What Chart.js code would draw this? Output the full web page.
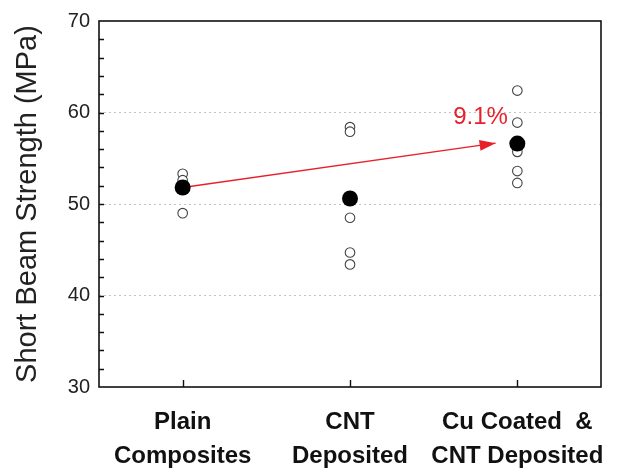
<!DOCTYPE html>
<html>
<head>
<meta charset="utf-8">
<script src="https://cdn.jsdelivr.net/npm/chart.js@4.4.1/dist/chart.umd.min.js"></script>
<style>
  html, body { margin: 0; padding: 0; background: #fff; }
  #wrap { width: 621px; height: 475px; }
</style>
</head>
<body>
<div id="wrap"><canvas id="chart" width="621" height="475"></canvas></div>
<script>
/* ── DATA ── */
const categories = [['Plain', 'Composites'], ['CNT', 'Deposited'], ['Cu Coated  &', 'CNT Deposited']];

const plainSamples = [53.3, 52.6, 51.8, 49.0];
const cntSamples   = [58.4, 57.9, 48.5, 44.7, 43.4];
const cuSamples    = [62.4, 58.9, 55.7, 53.6, 52.3];

const means        = [51.8, 50.6, 56.6];

const arrowFrom    = { x: 0, y: 51.8 };
const arrowTo      = { x: 1.87, y: 56.65 };
const arrowLabel   = { x: 1.78, y: 59.5, text: '9.1%' };

const yTicks       = [30, 40, 50, 60, 70];

/* ── HELPERS ── */
const FONT = "'Liberation Sans', Arial, sans-serif";
const RED  = '#e8202a';

function toPoints(vals, x) {
  return vals.map(v => ({ x: x, y: v }));
}

/* box, inward ticks, arrow head and label */
const decorPlugin = {
  id: 'decor',
  afterDatasetsDraw(chart) {
    const { ctx, chartArea: a, scales: { x, y } } = chart;
    ctx.save();

    // frame
    ctx.strokeStyle = '#111';
    ctx.lineWidth = 1.6;
    ctx.strokeRect(a.left, a.top, a.right - a.left, a.bottom - a.top);

    // inward minor/major ticks on y
    ctx.lineWidth = 1.4;
    ctx.beginPath();
    for (let v = 32; v < 70; v += 2) {
      const py = Math.round(y.getPixelForValue(v)) + 0.5;
      ctx.moveTo(a.left, py);
      ctx.lineTo(a.left + 5, py);
    }
    // inward ticks on x
    [0, 1, 2].forEach(i => {
      const px = Math.round(x.getPixelForValue(i)) + 0.5;
      ctx.moveTo(px, a.bottom);
      ctx.lineTo(px, a.bottom - 7);
    });
    ctx.stroke();

    // arrow head
    const x0 = x.getPixelForValue(arrowFrom.x), y0 = y.getPixelForValue(arrowFrom.y);
    const x1 = x.getPixelForValue(arrowTo.x),   y1 = y.getPixelForValue(arrowTo.y);
    const ang = Math.atan2(y1 - y0, x1 - x0);
    const len = 16, half = 5.5;
    ctx.fillStyle = RED;
    ctx.beginPath();
    ctx.moveTo(x1, y1);
    ctx.lineTo(x1 - len * Math.cos(ang) + half * Math.sin(ang), y1 - len * Math.sin(ang) - half * Math.cos(ang));
    ctx.lineTo(x1 - len * Math.cos(ang) - half * Math.sin(ang), y1 - len * Math.sin(ang) + half * Math.cos(ang));
    ctx.closePath();
    ctx.fill();

    // label
    ctx.font = '24px ' + FONT;
    ctx.textAlign = 'center';
    ctx.textBaseline = 'middle';
    ctx.fillText(arrowLabel.text, x.getPixelForValue(arrowLabel.x), y.getPixelForValue(arrowLabel.y));

    ctx.restore();
  }
};

const openStyle = {
  type: 'scatter',
  pointRadius: 4.8,
  pointBorderWidth: 1.1,
  pointBorderColor: '#444',
  pointBackgroundColor: '#fff'
};

new Chart(document.getElementById('chart'), {
  type: 'scatter',
  data: {
    datasets: [
      { ...openStyle, data: toPoints(plainSamples, 0), order: 4 },
      { ...openStyle, data: toPoints(cntSamples, 1),   order: 3 },
      { ...openStyle, data: toPoints(cuSamples, 2),    order: 2 },
      {
        type: 'line',
        data: [arrowFrom, arrowTo],
        borderColor: RED,
        borderWidth: 1.4,
        pointRadius: 0,
        fill: false,
        order: 1
      },
      {
        type: 'scatter',
        data: means.map((v, i) => ({ x: i, y: v })),
        pointRadius: 8,
        pointBorderWidth: 0,
        pointBackgroundColor: '#000',
        order: 0
      }
    ]
  },
  options: {
    responsive: false,
    animation: false,
    layout: { padding: { top: 19, right: 20, left: 0, bottom: 0 } },
    plugins: { legend: { display: false }, tooltip: { enabled: false } },
    scales: {
      x: {
        type: 'linear',
        min: -0.5,
        max: 2.5,
        afterBuildTicks: s => { s.ticks = [0, 1, 2].map(v => ({ value: v })); },
        afterFit: s => { s.height = 88; s.paddingLeft = 0; s.paddingRight = 0; },
        grid: { display: false, drawTicks: false },
        border: { display: false },
        ticks: {
          padding: 18,
          maxRotation: 0,
          autoSkip: false,
          color: '#111',
          font: { family: FONT, size: 24, weight: 'bold', lineHeight: 1.42 },
          callback: v => categories[v]
        }
      },
      y: {
        min: 30,
        max: 70,
        afterBuildTicks: s => { s.ticks = yTicks.map(v => ({ value: v })); },
        afterFit: s => { s.width = 99; },
        grid: {
          drawTicks: false,
          color: c => (c.tick && c.tick.value > 30 && c.tick.value < 70) ? '#c4c4c4' : 'rgba(0,0,0,0)',
          lineWidth: 1
        },
        border: { display: false, dash: [2, 3] },
        ticks: {
          padding: 9,
          color: '#222',
          font: { family: FONT, size: 20 }
        },
        title: {
          display: true,
          text: 'Short Beam Strength (MPa)',
          color: '#222',
          padding: { top: 11, bottom: 0 },
          font: { family: FONT, size: 29 }
        }
      }
    }
  },
  plugins: [decorPlugin]
});
</script>
</body>
</html>
